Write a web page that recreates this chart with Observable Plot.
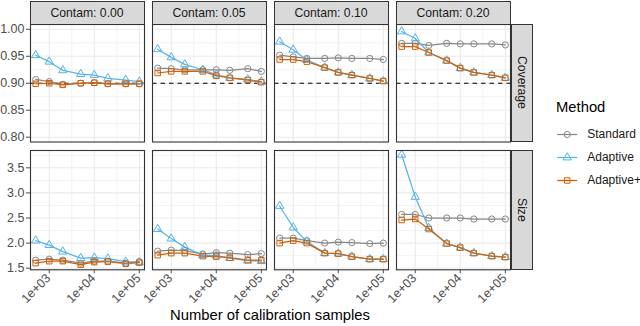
<!DOCTYPE html>
<html><head><meta charset="utf-8">
<script src="https://cdn.jsdelivr.net/npm/d3@7"></script>
<script src="https://cdn.jsdelivr.net/npm/@observablehq/plot@0.6"></script>
<style>
html,body{margin:0;padding:0;background:#fff;}
#chart{position:relative;width:640px;height:326px;overflow:hidden;font-family:"Liberation Sans",Arial,Helvetica,sans-serif;}
#chart > *{position:absolute;}
.strip{background:#D9D9D9;border:1px solid #333;box-sizing:border-box;color:#1A1A1A;font-size:12.2px;display:flex;align-items:center;justify-content:center;}
.vstrip{writing-mode:vertical-rl;}
</style></head><body><div id="chart"></div>
<script>
// ---- data ----
const samples = [500, 1000, 2000, 5000, 10000, 20000, 50000, 100000];
const contams = ["0.00", "0.05", "0.10", "0.20"];
const methods = ["Standard", "Adaptive", "Adaptive+"];
const methodColors = ["#888888", "#56B4E9", "#D55E00"];
const methodSymbols = ["circle", "triangle", "square"];

// one inner array per contamination level (0.00, 0.05, 0.10, 0.20)
const coverageStandard = [
  [0.907, 0.903, 0.898, 0.900, 0.901, 0.899, 0.899, 0.899],
  [0.928, 0.927, 0.925, 0.925, 0.925, 0.924, 0.927, 0.922],
  [0.952, 0.949, 0.946, 0.946, 0.947, 0.946, 0.946, 0.944],
  [0.974, 0.974, 0.970, 0.974, 0.973, 0.973, 0.973, 0.971]
];
const coverageAdaptive = [
  [0.952, 0.940, 0.924, 0.917, 0.915, 0.909, 0.906, 0.903],
  [0.963, 0.948, 0.935, 0.925, 0.916, 0.910, 0.907, 0.903],
  [0.977, 0.962, 0.943, 0.929, 0.920, 0.915, 0.909, 0.904],
  [0.996, 0.983, 0.957, 0.942, 0.928, 0.920, 0.915, 0.910]
];
const coverageAdaptivePlus = [
  [0.899, 0.900, 0.897, 0.900, 0.901, 0.899, 0.899, 0.899],
  [0.919, 0.922, 0.922, 0.922, 0.914, 0.910, 0.906, 0.902],
  [0.944, 0.944, 0.940, 0.929, 0.920, 0.915, 0.909, 0.904],
  [0.968, 0.968, 0.957, 0.942, 0.928, 0.920, 0.915, 0.910]
];
const sizeStandard = [
  [1.66, 1.68, 1.66, 1.60, 1.64, 1.64, 1.60, 1.63],
  [1.84, 1.86, 1.85, 1.78, 1.81, 1.80, 1.77, 1.79],
  [2.10, 2.10, 2.05, 2.00, 2.02, 2.01, 1.99, 2.00],
  [2.57, 2.57, 2.50, 2.50, 2.50, 2.48, 2.48, 2.48]
];
const sizeAdaptive = [
  [2.05, 1.96, 1.83, 1.70, 1.71, 1.69, 1.63, 1.62],
  [2.28, 2.09, 1.92, 1.76, 1.75, 1.70, 1.65, 1.64],
  [2.74, 2.31, 2.03, 1.80, 1.79, 1.73, 1.68, 1.68],
  [3.76, 2.92, 2.30, 1.99, 1.91, 1.80, 1.74, 1.72]
];
const sizeAdaptivePlus = [
  [1.60, 1.64, 1.64, 1.57, 1.62, 1.63, 1.59, 1.61],
  [1.76, 1.80, 1.80, 1.74, 1.73, 1.71, 1.66, 1.66],
  [2.00, 2.05, 2.00, 1.80, 1.79, 1.73, 1.68, 1.68],
  [2.46, 2.48, 2.28, 1.99, 1.91, 1.80, 1.74, 1.72]
];

const targetCoverage = 0.90;
const xTicks = [1e3, 1e4, 1e5];
const xTickLabels = ["1e+03", "1e+04", "1e+05"];
const xMinor = [Math.pow(10, 3.5), Math.pow(10, 4.5)];
const covTicks = [0.80, 0.85, 0.90, 0.95, 1.00];
const covTickLabels = ["0.80", "0.85", "0.90", "0.95", "1.00"];
const covMinor = [0.825, 0.875, 0.925, 0.975];
const sizeTicks = [1.5, 2.0, 2.5, 3.0, 3.5];
const sizeTickLabels = ["1.5", "2.0", "2.5", "3.0", "3.5"];
const sizeMinor = [1.75, 2.25, 2.75, 3.25, 3.75];
const rowLabels = ["Coverage", "Size"];
const xTitle = "Number of calibration samples";
const legendTitle = "Method";

// ---- build tidy tables ----
function tidy(byMethod) {
  const out = [];
  methods.forEach((m, mi) => {
    contams.forEach((c, ci) => {
      samples.forEach((n, k) => out.push({method: m, contam: c, n, value: byMethod[mi][ci][k]}));
    });
  });
  return out;
}
const coverageData = tidy([coverageStandard, coverageAdaptive, coverageAdaptivePlus]);
const sizeData = tidy([sizeStandard, sizeAdaptive, sizeAdaptivePlus]);

const chart = document.getElementById("chart");
const font = '"Liberation Sans", Arial, Helvetica, sans-serif';
const xDomain = [Math.pow(10, 2.584), Math.pow(10, 5.115)];
const lookup = (ticks, labels) => (d) => labels[ticks.findIndex((t) => Math.abs(t - d) < 1e-9 * Math.max(1, Math.abs(t)))];

function row({data, yDomain, yTicks, yLabels, yMinor, height, marginTop, marginBottom, showX, hline}) {
  const marks = [
    Plot.gridX(xMinor, {stroke: "#EBEBEB", strokeOpacity: 1, strokeWidth: 0.6}),
    Plot.gridY(yMinor, {stroke: "#EBEBEB", strokeOpacity: 1, strokeWidth: 0.6}),
    Plot.gridX(xTicks, {stroke: "#EBEBEB", strokeOpacity: 1, strokeWidth: 1.1}),
    Plot.gridY(yTicks, {stroke: "#EBEBEB", strokeOpacity: 1, strokeWidth: 1.1})
  ];
  if (hline != null) marks.push(Plot.ruleY([hline], {stroke: "black", strokeWidth: 1.2, strokeDasharray: "4.5,4"}));
  marks.push(Plot.line(data, {x: "n", y: "value", z: "method", stroke: "method", fx: "contam", strokeWidth: 1.25}));
  marks.push(Plot.dot(data, {x: "n", y: "value", stroke: "method", symbol: "method", fx: "contam", r: 3.1, strokeWidth: 1, fill: "none"}));
  marks.push(Plot.frame({stroke: "#333333", strokeWidth: 1.1}));
  marks.push(Plot.axisY(yTicks, {tickFormat: lookup(yTicks, yLabels), tickSize: 4, tickPadding: 2, label: null, color: "#4D4D4D", fontSize: 12.5}));
  if (showX) {
    marks.push(Plot.axisX(xTicks, {tickFormat: lookup(xTicks, xTickLabels), text: null, tickSize: 4, label: null, color: "#4D4D4D"}));
    marks.push(Plot.text(xTicks, {x: (d) => d, text: lookup(xTicks, xTickLabels), frameAnchor: "bottom", rotate: -45, textAnchor: "end",
      dx: 2, dy: 9, fill: "#4D4D4D", fontSize: 12.5}));
  }
  return Plot.plot({
    width: 640, height, marginTop, marginBottom, marginLeft: 30, marginRight: 130,
    style: {fontFamily: font, fontSize: "12.5px", background: "transparent", overflow: "visible"},
    fx: {domain: contams, paddingInner: 8 / 122, paddingOuter: 0, round: false, axis: null, label: null},
    x: {type: "log", domain: xDomain, axis: showX ? undefined : null, label: null},
    y: {domain: yDomain, label: null},
    color: {domain: methods, range: methodColors},
    symbol: {domain: methods, range: methodSymbols},
    marks
  });
}

const row1 = row({data: coverageData, yDomain: [0.7911, 1.0089], yTicks: covTicks, yLabels: covTickLabels, yMinor: covMinor,
  height: 142, marginTop: 24, marginBottom: 0.5, showX: false, hline: targetCoverage});
row1.style.left = "0px"; row1.style.top = "0px";
chart.appendChild(row1);

const row2 = row({data: sizeData, yDomain: [1.468, 3.845], yTicks: sizeTicks, yLabels: sizeTickLabels, yMinor: sizeMinor,
  height: 184, marginTop: 8, marginBottom: 56.7, showX: true, hline: null});
row2.style.left = "0px"; row2.style.top = "142px";
chart.appendChild(row2);

// strips
contams.forEach((c, i) => {
  const d = document.createElement("div");
  d.className = "strip";
  d.textContent = "Contam: " + c;
  Object.assign(d.style, {left: (29.5 + i * 122) + "px", top: "0.5px", width: "115px", height: "24px"});
  chart.appendChild(d);
});
[[23.5, 118.5], [149.5, 120.3]].forEach(([top, h], i) => {
  const d = document.createElement("div");
  d.className = "strip vstrip";
  d.textContent = rowLabels[i];
  Object.assign(d.style, {left: "510.5px", top: top + "px", width: "22.5px", height: h + "px"});
  chart.appendChild(d);
});

// x title
const xt = document.createElement("div");
xt.textContent = xTitle;
Object.assign(xt.style, {left: "30px", width: "480px", top: "307px", textAlign: "center", fontSize: "14.8px", lineHeight: "17px", color: "#000"});
chart.appendChild(xt);

// legend title
const lt = document.createElement("div");
lt.textContent = legendTitle;
Object.assign(lt.style, {left: "556px", top: "99px", fontSize: "14.8px", lineHeight: "17px", color: "#000"});
chart.appendChild(lt);

// legend keys (Plot)
const legendRows = methods.map((m) => ({method: m}));
const legend = Plot.plot({
  width: 92, height: 95, margin: 0,
  style: {fontFamily: font, fontSize: "12px", background: "transparent", overflow: "visible"},
  x: {domain: [0, 1], range: [8.7, 28.7], axis: null},
  y: {type: "point", domain: methods, range: [38, 85], padding: 0, axis: null},
  color: {domain: methods, range: methodColors},
  symbol: {domain: methods, range: methodSymbols},
  marks: [
    Plot.link(legendRows, {x1: () => 0, x2: () => 1, y1: "method", y2: "method", stroke: "method", strokeWidth: 1.25}),
    Plot.dot(legendRows, {x: () => 0.5, y: "method", stroke: "method", symbol: "method", r: 3.1, strokeWidth: 1, fill: "none"}),
    Plot.text(legendRows, {x: () => 1, y: "method", text: "method", dx: 10, textAnchor: "start", fill: "#1A1A1A", fontSize: 12})
  ]
});
legend.style.left = "548px"; legend.style.top = "95px";
chart.appendChild(legend);
</script></body></html>
